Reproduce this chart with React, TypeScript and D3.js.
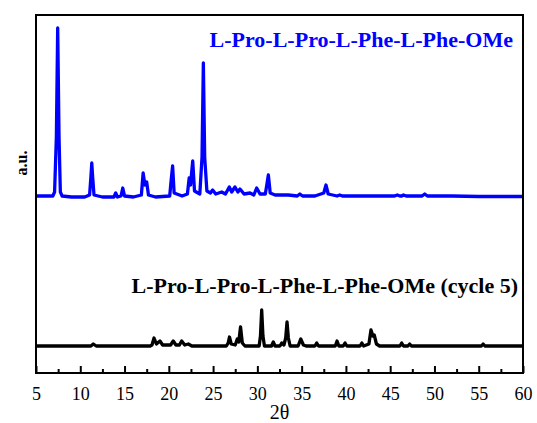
import React, { useEffect, useRef } from 'react';
import * as d3 from 'd3';

// 2theta ticks
const majorTicks = [5, 10, 15, 20, 25, 30, 35, 40, 45, 50, 55, 60];
const minorTicks = [7.5, 12.5, 17.5, 22.5, 27.5, 32.5, 37.5, 42.5, 47.5, 52.5, 57.5];

const blueLabel = 'L-Pro-L-Pro-L-Phe-L-Phe-OMe';
const blackLabel = 'L-Pro-L-Pro-L-Phe-L-Phe-OMe (cycle 5)';

// offsets of each pattern (a.u.)
const blueOffset = 176;
const blackOffset = 27;

// [2theta, intensity]
const bluePattern: [number, number][] = [
  [5, 1], [6.9, 1], [7.1, 5], [7.3, 60], [7.45, 169], [7.6, 60], [7.75, 5], [7.95, 1],
  [9, 0], [10.5, 0], [11.05, 2], [11.2, 20], [11.3, 34], [11.4, 20], [11.55, 2],
  [12.5, 0], [13.8, 0], [14.0, 4], [14.2, 0], [14.6, 1], [14.8, 9], [15.0, 1],
  [16.0, 0], [16.9, 2], [17.1, 24], [17.3, 12], [17.5, 15], [17.7, 2], [18.5, 0],
  [20.1, 1], [20.3, 20], [20.43, 31], [20.6, 4], [21.5, 1], [22.1, 3], [22.3, 19],
  [22.45, 12], [22.7, 36], [22.9, 6], [23.5, 3], [23.75, 40], [23.9, 134], [24.05, 40],
  [24.3, 6], [24.7, 4], [24.95, 7], [25.3, 3], [25.97, 5], [26.4, 3], [26.83, 10],
  [27.1, 5], [27.47, 10], [27.8, 5], [28.04, 8], [28.5, 3], [29.17, 4], [29.6, 2],
  [29.92, 9], [30.3, 3], [30.9, 3], [31.1, 14], [31.24, 22], [31.45, 4], [32, 2],
  [33.5, 2], [34.5, 1], [34.8, 3], [35.1, 1], [36.5, 1], [37.5, 4], [37.75, 12], [38.0, 3],
  [38.5, 2], [39.0, 1], [39.3, 2], [39.6, 1], [42, 1], [45.5, 1], [45.8, 2], [46.1, 1],
  [46.3, 1], [46.5, 2], [46.8, 1], [48.6, 1], [48.9, 3], [49.2, 1], [52, 1], [55, 0.5],
  [58, 0.5], [60, 0.5]
];

const blackPattern: [number, number][] = [
  [5, 0], [11.2, 0], [11.47, 2], [11.8, 0], [17.9, 0], [18.1, 1], [18.33, 8], [18.6, 2],
  [19.0, 5], [19.3, 1], [20.2, 1], [20.5, 5], [20.8, 1], [21.2, 1], [21.45, 5], [21.8, 1],
  [22.2, 2], [22.6, 0], [26.5, 0], [26.7, 3], [26.85, 9], [27.05, 2], [27.5, 1],
  [27.73, 7], [27.9, 4], [28.1, 19], [28.3, 3], [28.6, 0], [30.2, 0], [30.35, 10],
  [30.49, 36], [30.63, 10], [30.8, 0], [31.6, 0], [31.8, 4], [32.0, 0], [32.55, 0],
  [32.75, 3], [33.0, 1], [33.2, 8], [33.35, 24], [33.5, 8], [33.7, 0], [34.6, 0],
  [34.9, 7], [35.2, 1], [35.5, 0], [36.5, 0], [36.7, 3], [36.9, 0], [38.8, 0], [39.0, 5],
  [39.2, 0], [39.7, 0], [39.9, 3], [40.1, 0], [41.6, 0], [41.8, 3], [42.0, 0], [42.6, 2],
  [42.83, 16], [43.05, 10], [43.2, 11], [43.45, 2], [43.8, 0], [46.1, 0], [46.3, 3],
  [46.5, 0], [47.0, 0], [47.2, 2], [47.4, 0], [55.3, 0], [55.5, 2], [55.7, 0], [60, 0]
];

const W = 537;
const H = 423;
const margin = { left: 36, right: 14, top: 15, bottom: 50 };
const serif = 'Liberation Serif';

export default function App() {
  const ref = useRef<SVGSVGElement>(null);

  useEffect(() => {
    const svg = d3.select(ref.current);
    svg.selectAll('*').remove();

    const x = d3.scaleLinear().domain([5, 60]).range([margin.left, W - margin.right]);
    const y = d3.scaleLinear().domain([0, 358]).range([H - margin.bottom, margin.top]);

    // patterns
    const line = (off: number) =>
      d3.line<[number, number]>()
        .x(d => x(d[0]))
        .y(d => y(d[1] + off));

    svg.append('path')
      .datum(blackPattern)
      .attr('fill', 'none')
      .attr('stroke', '#000')
      .attr('stroke-width', 3.3)
      .attr('stroke-linejoin', 'round')
      .attr('d', line(blackOffset));

    svg.append('path')
      .datum(bluePattern)
      .attr('fill', 'none')
      .attr('stroke', '#0000ff')
      .attr('stroke-width', 3.3)
      .attr('stroke-linejoin', 'round')
      .attr('d', line(blueOffset));

    // frame
    svg.append('rect')
      .attr('x', margin.left)
      .attr('y', margin.top)
      .attr('width', W - margin.left - margin.right)
      .attr('height', H - margin.top - margin.bottom)
      .attr('fill', 'none')
      .attr('stroke', '#000')
      .attr('stroke-width', 2);

    // bottom axis, ticks inward
    const xAxis = d3.axisBottom(x)
      .tickValues(majorTicks)
      .tickSize(-7)
      .tickPadding(14)
      .tickFormat(d3.format('d'));
    const gx = svg.append('g')
      .attr('transform', `translate(0, ${H - margin.bottom})`)
      .call(xAxis);
    gx.select('.domain').remove();
    gx.selectAll('line').attr('stroke-width', 2);
    gx.selectAll('text')
      .style('font-family', serif)
      .style('font-size', '18px')
      .attr('fill', '#000');

    const gm = svg.append('g')
      .attr('transform', `translate(0, ${H - margin.bottom})`)
      .call(d3.axisBottom(x).tickValues(minorTicks).tickSize(-4).tickFormat(() => ''));
    gm.select('.domain').remove();
    gm.selectAll('line').attr('stroke-width', 2);

    // axis titles
    svg.append('text')
      .attr('x', (margin.left + W - margin.right) / 2)
      .attr('y', 419)
      .attr('text-anchor', 'middle')
      .style('font-family', serif)
      .style('font-size', '20px')
      .text('2θ');

    svg.append('text')
      .attr('transform', 'translate(27, 163) rotate(-90)')
      .attr('text-anchor', 'middle')
      .style('font-family', serif)
      .style('font-weight', 'bold')
      .style('font-size', '16px')
      .text('a.u.');

    // labels
    svg.append('text')
      .attr('x', 513)
      .attr('y', 47)
      .attr('text-anchor', 'end')
      .style('font-family', serif)
      .style('font-weight', 'bold')
      .style('font-size', '22px')
      .attr('fill', '#0000ff')
      .text(blueLabel);

    svg.append('text')
      .attr('x', 518)
      .attr('y', 293)
      .attr('text-anchor', 'end')
      .style('font-family', serif)
      .style('font-weight', 'bold')
      .style('font-size', '22px')
      .attr('fill', '#000')
      .text(blackLabel);
  }, []);

  return (
    <svg
      ref={ref}
      width={W}
      height={H}
      style={{ position: 'absolute', left: 0, top: 0, background: '#fff' }}
    />
  );
}
